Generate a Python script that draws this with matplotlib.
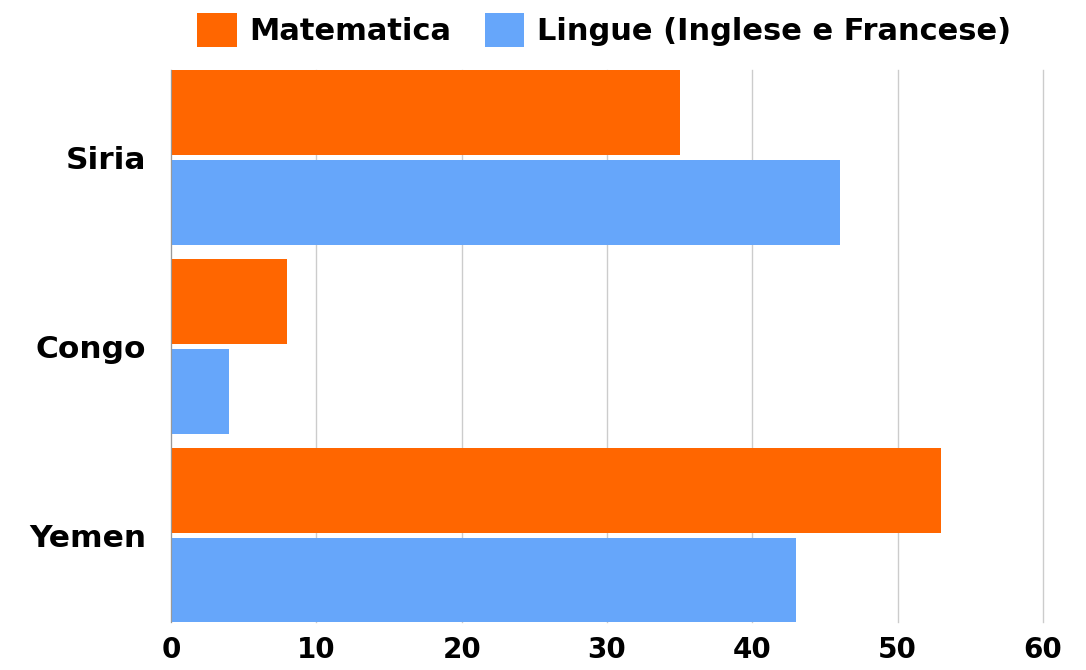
import matplotlib
matplotlib.use('Agg')
import matplotlib.pyplot as plt
import numpy as np

# Dati
paesi = ['Siria', 'Congo', 'Yemen']
matematica = [35, 8, 53]
lingue = [46, 4, 43]
serie = ['Matematica', 'Lingue (Inglese e Francese)']
colori = ['#FF6600', '#66A6FA']
xticks = [0, 10, 20, 30, 40, 50, 60]

plt.rcParams['font.family'] = ['DejaVu Sans']
plt.rcParams['font.weight'] = 'bold'

fig = plt.figure(figsize=(10.86, 6.70), dpi=100)
ax = fig.add_axes([0.1575, 0.0716, 0.8029, 0.8239])

y = np.arange(len(paesi))
h = 0.45
off = 0.238
ax.barh(y - off, matematica, height=h, color=colori[0], label=serie[0], zorder=3)
ax.barh(y + off, lingue, height=h, color=colori[1], label=serie[1], zorder=3)

ax.set_xlim(0, 60)
ax.set_ylim(2.458, -0.463)
ax.set_xticks(xticks)
ax.set_xticklabels([str(v) for v in xticks], fontsize=20, fontweight='bold')
ax.set_yticks(y)
ax.set_yticklabels(paesi, fontsize=22.5, fontweight='bold')
ax.tick_params(axis='both', length=0)
ax.tick_params(axis='y', pad=18)
ax.tick_params(axis='x', pad=10)

ax.grid(axis='x', color='#cccccc', linewidth=1, zorder=0)
for gl in ax.get_xgridlines():
    gl.set_clip_on(False)
for s in ['top', 'right', 'bottom']:
    ax.spines[s].set_visible(False)
ax.spines['left'].set_color('#999999')
ax.spines['left'].set_zorder(4)

fig.legend(loc='upper center', bbox_to_anchor=(0.556, 1.012), ncol=2, frameon=False,
           prop={'size': 22, 'weight': 'bold'}, handlelength=1.3, handleheight=1.3,
           handletextpad=0.4, columnspacing=1.1, borderaxespad=0.3)

fig.savefig('out.png', dpi=100)
